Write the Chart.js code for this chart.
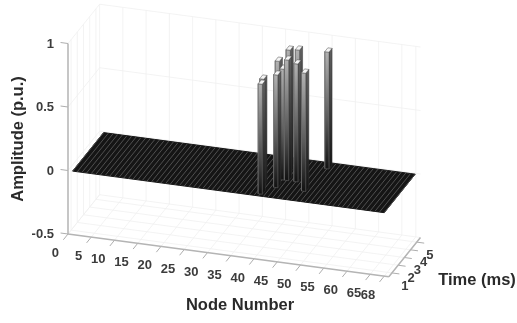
<!DOCTYPE html>
<html><head><meta charset="utf-8">
<script src="https://cdn.jsdelivr.net/npm/chart.js@4"></script>
<style>html,body{margin:0;padding:0;background:#fff}canvas{display:block;filter:blur(0.45px)}</style>
</head><body><canvas id="c" width="517" height="323"></canvas>
<script>
const nodeTicks=[0,5,10,15,20,25,30,35,40,45,50,55,60,65,68];
const timeTicks=[1,2,3,4,5];
const ampTicks=[-0.5,0,0.5,1];
const barNodes=[41,40,43,42,43,43,44,45,46,49,50];
const barTimes=[1,2,2,3,3,4,3,4,3,2,5];
const barAmps=[0.866,0.84,0.887,0.93,0.873,0.962,0.949,0.972,0.928,0.931,0.92];
const nodeMin=0,nodeMax=69,timeMin=0.5,timeMax=5.6,ampMin=-0.5,ampMax=1;
const plateNodes=[1,68],plateTimes=[0.5,5.5];

function P(n,t,z){return {x:68+4.65*n+6.2*(t-timeMin), y:234+0.62*n-7.7*(t-timeMin)-127*(z-ampMin)};}
function seg(list){const o=[];list.forEach(([a,b])=>{o.push(a,b,{x:NaN,y:NaN});});return o;}

const grid=[];
nodeTicks.forEach(n=>{grid.push([P(n,timeMin,ampMin),P(n,timeMax,ampMin)]);grid.push([P(n,timeMax,ampMin),P(n,timeMax,ampMax)]);});
timeTicks.forEach(t=>{grid.push([P(nodeMin,t,ampMin),P(nodeMax,t,ampMin)]);grid.push([P(nodeMin,t,ampMin),P(nodeMin,t,ampMax)]);});
ampTicks.forEach(z=>{grid.push([P(nodeMin,timeMax,z),P(nodeMax,timeMax,z)]);grid.push([P(nodeMin,timeMin,z),P(nodeMin,timeMax,z)]);});

const axes=[[P(nodeMin,timeMin,ampMin),P(nodeMin,timeMin,ampMax)],
 [P(nodeMin,timeMin,ampMin),P(nodeMax,timeMin,ampMin)],
 [P(nodeMax,timeMin,ampMin),P(nodeMax,timeMax,ampMin)]];
const ticks=[];
nodeTicks.forEach(n=>ticks.push([P(n,timeMin,ampMin),P(n,timeMin-0.75,ampMin)]));
timeTicks.forEach(t=>ticks.push([P(nodeMax,t,ampMin),P(nodeMax+1.6,t,ampMin)]));
ampTicks.forEach(z=>ticks.push([P(nodeMin,timeMin,z),P(nodeMin-1.6,timeMin,z)]));

const stripes=[];
for(let n=plateNodes[0];n<=plateNodes[1];n++)stripes.push([P(n,plateTimes[0],0),P(n,plateTimes[1],0)]);

const base={type:'scatter',showLine:true,pointRadius:0,pointHoverRadius:0,tension:0};
const datasets=[
 {...base,data:seg(grid),borderColor:'#f0f0f0',borderWidth:0.8},
 {...base,data:seg(ticks),borderColor:'#adadad',borderWidth:1},
 {...base,data:seg(axes),borderColor:'#b4b4b4',borderWidth:1.5},
 {...base,data:[P(plateNodes[0],plateTimes[0],0),P(plateNodes[1],plateTimes[0],0),P(plateNodes[1],plateTimes[1],0),P(plateNodes[0],plateTimes[1],0),P(plateNodes[0],plateTimes[0],0)],
  fill:'shape',backgroundColor:'#151515',borderColor:'#151515',borderWidth:1},
 {...base,data:seg(stripes),borderColor:'#565656',borderWidth:0.9},
];

function grad(n,t,amp,lo,hi){return (ctx)=>{const c=ctx.chart,yS=c.scales.y;
  let y0=yS.getPixelForValue(P(n,t,0).y),y1=yS.getPixelForValue(P(n,t,amp).y);
  if(!Number.isFinite(y0)||!Number.isFinite(y1)){y0=P(n,t,0).y;y1=P(n,t,amp).y;}
  const g=c.ctx.createLinearGradient(0,y0,0,y1);g.addColorStop(0,'#141414');g.addColorStop(0.4,lo);g.addColorStop(1,hi);return g;};}
const order=barNodes.map((_,i)=>i).sort((a,b)=>barTimes[b]-barTimes[a]||barNodes[a]-barNodes[b]);
order.forEach(i=>{
 const n=barNodes[i],t=barTimes[i],a=barAmps[i],dn=0.45,dt=0.25;
 const poly=(pts,bg,bc)=>datasets.push({...base,data:[...pts,pts[0]],fill:'shape',backgroundColor:bg,borderColor:bc,borderWidth:0.5});
 poly([P(n+dn,t-dt,0),P(n+dn,t+dt,0),P(n+dn,t+dt,a),P(n+dn,t-dt,a)],grad(n,t,a,'#333333','#5f5f5f'),'#333333');
 poly([P(n-dn,t-dt,0),P(n+dn,t-dt,0),P(n+dn,t-dt,a),P(n-dn,t-dt,a)],grad(n,t,a,'#5a5a5a','#b4b4b4'),'#6a6a6a');
 poly([P(n-dn,t-dt,a),P(n+dn,t-dt,a),P(n+dn,t+dt,a),P(n-dn,t+dt,a)],'#f4f4f4','#4a4a4a');
});
datasets.reverse();

const textPlugin={id:'texts',afterDatasetsDraw(ch){
 const c=ch.ctx,X=ch.scales.x,Y=ch.scales.y;
 const put=(s,p,dx,dy,al,font,col)=>{c.font=font;c.fillStyle=col;c.textAlign=al;c.textBaseline='middle';c.fillText(s,X.getPixelForValue(p.x)+dx,Y.getPixelForValue(p.y)+dy);};
 const f='bold 13px "Liberation Sans"',col='#3c3c3c';
 c.save();
 nodeTicks.forEach(n=>put(String(n),P(n,timeMin,ampMin),-9,19.5,'right',f,col));
 timeTicks.forEach(t=>put(String(t),P(nodeMax,t,ampMin),13,13,'center',f,col));
 ampTicks.forEach(z=>put(String(z),P(nodeMin,timeMin,z),-14,0.5,'right',f,col));
 const tf='bold 16.5px "Liberation Sans"',tc='#2a2a2a';
 c.font=tf;c.fillStyle=tc;c.textAlign='center';c.textBaseline='middle';
 c.fillText('Node Number',240,305);
 c.fillText('Time (ms)',477,280);
 c.translate(18,139);c.rotate(-Math.PI/2);c.fillText('Amplitude (p.u.)',0,0);
 c.restore();
}};

new Chart(document.getElementById('c'),{type:'scatter',data:{datasets},plugins:[textPlugin],options:{
 responsive:false,animation:false,layout:{padding:0},
 plugins:{legend:{display:false},tooltip:{enabled:false},filler:{propagate:false}},
 scales:{x:{type:'linear',min:0,max:517,display:false},y:{type:'linear',min:0,max:323,reverse:true,display:false}}
}});
</script></body></html>
